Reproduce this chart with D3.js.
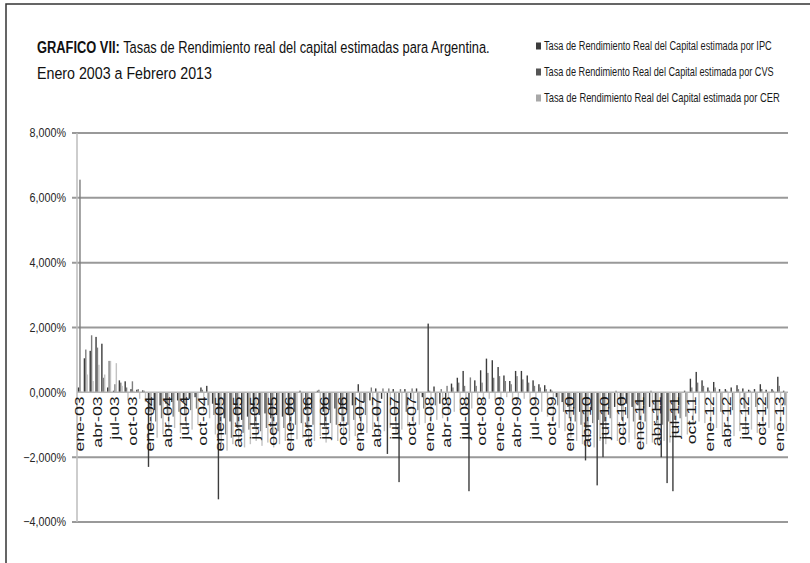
<!DOCTYPE html>
<html>
<head>
<meta charset="utf-8">
<script src="https://cdn.jsdelivr.net/npm/d3@7"></script>
<style>
  html, body { margin: 0; padding: 0; background: #fff; }
  svg { display: block; font-family: Arial, "Liberation Sans", sans-serif; }
</style>
</head>
<body>
<svg id="chart" width="810" height="563"></svg>
<script>
// Month abbreviations used for the category labels (Jan 2003 .. Feb 2013)
const monthNames = ["ene","feb","mar","abr","may","jun","jul","ago","sep","oct","nov","dic"];
const categories = [];
for (let y = 2003; y <= 2013; y++) {
  for (let m = 0; m < 12; m++) {
    if (y === 2013 && m > 1) break;
    categories.push(monthNames[m] + "-" + String(y).slice(2));
  }
}

// Real return on capital, % per month
const ipc = [
  0.15, 1.05, 1.28, 1.71, 1.50, 0.15, 0.05, 0.37, 0.34, 0.10, 0.08, 0.06,
  -2.30, -0.55, -0.40, -0.35, -0.30, -0.25, -0.30, -0.20, -0.15, 0.15, 0.20, -0.35,
  -3.30, -0.80, -0.90, -0.70, -0.85, -0.75, -0.60, -0.70, -0.65, -0.80, -0.70, -0.75,
  -0.70, -0.60, 0.05, -0.55, -0.50, 0.05, -0.60, -0.55, -0.50, -0.45, -0.55, -0.40,
  0.25, -0.30, -0.25, 0.12, -0.20, -1.90, 0.10, -2.77, 0.10, -0.20, 0.12, -0.15,
  2.12, 0.18, -0.35, -0.25, 0.27, 0.45, 0.66, -3.05, 0.37, 0.68, 1.04, 0.99,
  0.78, 0.52, 0.35, 0.66, 0.66, 0.52, 0.37, 0.25, 0.22, 0.09, -0.15, -0.30,
  -0.45, -0.50, -0.60, -2.10, -0.55, -2.87, -2.00, -0.50, -0.45, -0.40, -0.35, -0.45,
  -0.40, -0.50, -0.45, -0.55, -2.00, -2.80, -3.05, -0.40, 0.05, 0.42, 0.63, 0.37,
  0.15, 0.32, 0.10, 0.10, 0.15, 0.22, 0.12, 0.08, 0.10, 0.25, 0.08, 0.10,
  0.48, 0.05
];
const cvs = [
  6.56, 1.32, 1.76, 1.38, 0.45, 0.97, 0.25, 0.30, 0.15, 0.34, 0.10, 0.05,
  -0.60, -0.90, -0.80, -0.70, -0.75, -0.60, -0.70, -0.55, -0.50, 0.08, -0.40, -0.70,
  -1.20, -1.30, -1.40, -1.10, -1.25, -1.15, -1.05, -1.20, -1.10, -1.30, -1.20, -1.10,
  -1.05, -1.00, -0.95, -1.10, -1.00, 0.08, -1.05, -0.95, -1.00, -0.90, -1.00, -0.85,
  -0.80, -0.70, 0.15, -0.75, 0.12, 0.12, -0.70, 0.10, -0.60, 0.12, -0.55, -0.50,
  0.05, -0.40, 0.10, 0.20, 0.15, 0.30, 0.20, 0.46, 0.20, 0.30, 0.60, 0.45,
  0.50, 0.35, 0.25, 0.50, 0.40, 0.30, 0.20, 0.15, 0.10, 0.05, -0.40, -0.60,
  -0.80, -0.90, -1.00, -1.10, -0.95, -0.85, -0.90, -0.80, 0.05, -0.85, -0.80, -0.90,
  -0.85, -0.90, 0.05, -0.95, -1.00, -0.90, -0.85, -0.80, -0.75, 0.15, 0.30, 0.20,
  0.05, 0.15, -0.60, 0.05, -0.55, 0.10, -0.50, 0.05, -0.45, 0.10, -0.50, 0.05,
  0.20, -0.40
];
const cer = [
  0.02, 0.55, 0.35, 0.85, 0.55, 0.97, 0.90, 0.20, -0.25, 0.05, -0.20, -0.30,
  -1.20, -1.40, -1.30, -1.20, -1.10, -1.25, -1.05, -1.15, -1.00, -0.60, -0.80, -1.30,
  -1.70, -1.80, -1.60, -1.55, -1.70, -1.60, -1.50, -1.65, -1.55, -1.70, -1.60, -1.50,
  -1.55, -1.45, -1.40, -1.60, -1.50, -1.35, -1.55, -1.45, -1.50, -1.40, -1.50, -1.35,
  -1.30, -1.25, -1.15, -1.30, -1.20, -1.10, -1.25, -1.15, -1.05, -1.10, -1.00, -0.95,
  -0.90, -0.85, -0.80, -0.70, -0.60, -0.55, -0.45, -0.50, -0.40, -0.30, -0.20, -0.25,
  -0.20, -0.15, -0.25, -0.30, -0.20, -0.35, -0.45, -0.60, -0.75, -0.90, -1.10, -1.20,
  -1.40, -1.50, -1.60, -1.55, -1.70, -1.50, -1.60, -1.45, -1.50, -1.40, -1.55, -1.45,
  -1.50, -1.60, -1.55, -1.45, -1.50, -1.55, -1.40, -1.35, -1.30, -1.00, -0.90, -0.95,
  -1.20, -1.10, -1.30, -1.25, -1.35, -1.20, -1.30, -1.15, -1.25, -1.20, -1.10, -1.15,
  -1.00, -1.20
];

const seriesNames = [
  "Tasa de Rendimiento Real del Capital estimada por IPC",
  "Tasa de Rendimiento Real del Capital estimada por CVS",
  "Tasa de Rendimiento Real del Capital estimada por CER"
];
const seriesColors = ["#3c3c3c", "#7d7d7d", "#c2c2c2"];
const legendColors = ["#3c3c3c", "#555555", "#a8a8a8"];
const yTicks = [8, 6, 4, 2, 0, -2, -4];

const svg = d3.select("#chart");

// Outer frame
svg.append("rect")
  .attr("x", 6).attr("y", 4).attr("width", 900).attr("height", 700)
  .attr("fill", "none").attr("stroke", "#333").attr("stroke-width", 1.5);

// Scales
const x0 = d3.scaleBand().domain(categories).range([77, 788]).paddingInner(0.28).paddingOuter(0.15);
const x1 = d3.scaleBand().domain([0, 1, 2]).range([0, x0.bandwidth()]).padding(0);
const y = d3.scaleLinear().domain([-4, 8]).range([522, 133]);

// Horizontal gridlines (the zero line is the category axis)
svg.append("g").selectAll("line")
  .data(yTicks.filter(t => t !== 0))
  .join("line")
  .attr("x1", 72).attr("x2", 788)
  .attr("y1", d => y(d)).attr("y2", d => y(d))
  .attr("stroke", "#999").attr("stroke-width", 2);

// Value axis line
svg.append("line")
  .attr("x1", 77).attr("x2", 77).attr("y1", y(8)).attr("y2", y(-4))
  .attr("stroke", "#bdbdbd").attr("stroke-width", 1.5);

// Value axis labels
const fmt = v => d3.format(".3f")(v).replace(".", ",") + "%";
svg.append("g").selectAll("text")
  .data(yTicks)
  .join("text")
  .attr("transform", d => `translate(66,${y(d)}) scale(0.86,1)`)
  .attr("dy", "0.35em")
  .attr("text-anchor", "end")
  .attr("font-size", 12.5)
  .attr("fill", "#262626")
  .text(fmt);

// Bars
const seriesData = [ipc, cvs, cer];
const barG = svg.append("g");
seriesData.forEach((vals, s) => {
  barG.append("g").selectAll("rect")
    .data(vals)
    .join("rect")
    .attr("x", (d, i) => x0(categories[i]) + x1(s))
    .attr("width", x1.bandwidth())
    .attr("y", d => y(Math.max(0, d)))
    .attr("height", d => Math.abs(y(d) - y(0)))
    .attr("fill", seriesColors[s]);
});

// Category axis line
svg.append("line")
  .attr("x1", 77).attr("x2", 788).attr("y1", y(0)).attr("y2", y(0))
  .attr("stroke", "#b5b5b5").attr("stroke-width", 1.5);

// Rotated category labels every three months
const tickCats = categories.filter((c, i) => i % 3 === 0);
svg.append("g").selectAll("text")
  .data(tickCats)
  .join("text")
  .attr("transform", d => `translate(${x0(d) + x0.bandwidth() / 2},${y(0) + 4}) rotate(-90) scale(1.48,1)`)
  .attr("dy", "0.36em")
  .attr("text-anchor", "end")
  .attr("font-size", 12)
  .attr("fill", "#1a1a1a")
  .text(d => d);

// Title, squeezed to its set width
function fitWidth(sel, x, yPos, width) {
  const w = sel.node().getBBox().width;
  sel.attr("transform", `translate(${x},${yPos}) scale(${width / w},1)`);
}
const t1 = svg.append("text").attr("font-size", 17).attr("fill", "#111");
t1.append("tspan").attr("font-weight", "bold").text("GRAFICO VII:");
t1.append("tspan").text(" Tasas de Rendimiento real del capital estimadas para Argentina.");
fitWidth(t1, 37, 53, 453);
const t2 = svg.append("text").attr("font-size", 17).attr("fill", "#111")
  .text("Enero 2003 a Febrero 2013");
fitWidth(t2, 37, 79, 175);

// Legend
const legendW = [228, 230, 236];
seriesNames.forEach((name, i) => {
  const ly = 46 + i * 26;
  svg.append("rect")
    .attr("x", 536).attr("y", ly - 3.5).attr("width", 5).attr("height", 7)
    .attr("fill", legendColors[i]);
  const lt = svg.append("text").attr("font-size", 12.5).attr("fill", "#1a1a1a")
    .attr("dy", "0.35em").text(name);
  fitWidth(lt, 544, ly, legendW[i]);
});
</script>
</body>
</html>
